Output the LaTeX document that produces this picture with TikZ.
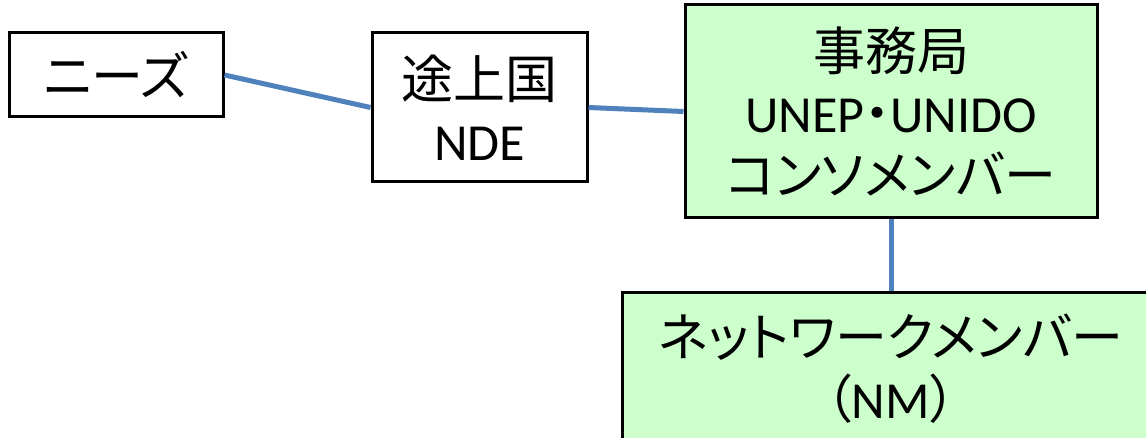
\documentclass[tikz,border=0pt]{standalone}
\usepackage{fontspec}
\setmainfont{Carlito}
\newfontfamily\jp[RawFeature=+palt]{Noto Sans CJK JP}

\definecolor{kimidori}{RGB}{204,255,204}
\definecolor{aosen}{RGB}{79,129,189}

\begin{document}
\begin{tikzpicture}[
    x=1pt,
    y=-1pt,
    every node/.style={font=\fontsize{52}{62}\selectfont},
    waku/.style={draw=black, line width=3pt, inner sep=0pt, align=center},
    shiro/.style={waku, fill=white},
    midori/.style={waku, fill=kimidori},
    sen/.style={draw=aosen, line width=5pt}
]

% Fixed frame of the figure; the network box runs past its lower right edge.
\useasboundingbox (0,0) rectangle (1146,438);

% Needs box, far left.
\node[shiro, minimum width=214pt, minimum height=84pt] (needs) at (116,75)
    {\jp ニーズ};

% Developing country / NDE.
\node[shiro, minimum width=215pt, minimum height=149pt] (nde) at (479.5,107.5)
    {{\jp 途上国}\\NDE};

% Secretariat with the consortium members.
\node[midori, minimum width=412pt, minimum height=213pt] (secretariat) at (891,111.5)
    {{\jp 事務局}\\UNEP{\jp ・}UNIDO\\{\jp コンソメンバー}};

% Network members, hung below the secretariat.
\node[midori, minimum width=538pt, minimum height=152pt, anchor=north] (nm) at (891,291)
    {{\jp ネットワークメンバー}\\{\jp （}NM{\jp ）}};

% Connections.
\draw[sen] (needs.east) -- (nde.west);
\draw[sen] (nde.east) -- (secretariat.west);
\draw[sen] (secretariat.south) -- (nm.north);

\end{tikzpicture}
\end{document}
